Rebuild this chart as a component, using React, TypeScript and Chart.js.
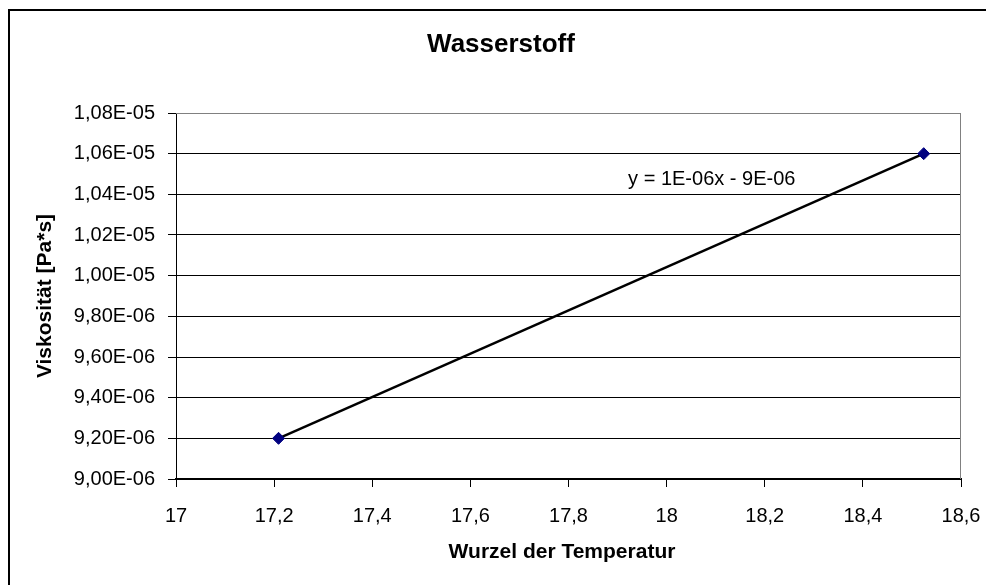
import React, { useEffect, useRef } from "react";
import { Chart, registerables } from "chart.js";

Chart.register(...registerables);

// ---- data ----
const xValues = [17.209, 18.524];
const yValues = [9.2e-6, 1.06e-5];
const xTicks = [17, 17.2, 17.4, 17.6, 17.8, 18, 18.2, 18.4, 18.6];
const yTicks = [9.0e-6, 9.2e-6, 9.4e-6, 9.6e-6, 9.8e-6, 1.0e-5, 1.02e-5, 1.04e-5, 1.06e-5, 1.08e-5];
const chartTitle = "Wasserstoff";
const xTitle = "Wurzel der Temperatur";
const yTitle = "Viskosität [Pa*s]";
const equation = "y = 1E-06x - 9E-06";
const equationPos = { x: 18.092, y: 1.0475e-5 };

const FONT = "'Liberation Sans', Arial, sans-serif";

function fmtSci(v: number): string {
  const [m, e] = v.toExponential(2).split("e");
  const en = parseInt(e, 10);
  const sign = en < 0 ? "-" : "+";
  return m.replace(".", ",") + "E" + sign + String(Math.abs(en)).padStart(2, "0");
}

const decorPlugin = {
  id: "decor",
  beforeDraw(chart: any) {
    const ctx = chart.ctx;
    ctx.save();
    ctx.fillStyle = "#ffffff";
    ctx.fillRect(0, 0, chart.width, chart.height);
    ctx.strokeStyle = "#000000";
    ctx.lineWidth = 2;
    ctx.strokeRect(9, 10, 1200, 1200);
    ctx.restore();
  },
  beforeDatasetsDraw(chart: any) {
    const ctx = chart.ctx;
    const a = chart.chartArea;
    ctx.save();
    ctx.strokeStyle = "#808080";
    ctx.lineWidth = 1;
    ctx.beginPath();
    ctx.moveTo(a.left, a.top + 0.5);
    ctx.lineTo(a.right - 0.5, a.top + 0.5);
    ctx.lineTo(a.right - 0.5, a.bottom);
    ctx.stroke();
    ctx.restore();
  },
  afterDraw(chart: any) {
    const ctx = chart.ctx;
    const a = chart.chartArea;
    const xs = chart.scales.x;
    const ys = chart.scales.y;
    ctx.save();
    ctx.fillStyle = "#000000";
    ctx.textAlign = "center";
    ctx.textBaseline = "middle";
    ctx.font = `bold 26px ${FONT}`;
    ctx.fillText(chartTitle, 501, 45);
    ctx.font = `bold 21px ${FONT}`;
    ctx.fillText(xTitle, 562, 552);
    ctx.save();
    ctx.translate(45, (a.top + a.bottom) / 2);
    ctx.rotate(-Math.PI / 2);
    ctx.fillText(yTitle, 0, 0);
    ctx.restore();
    ctx.font = `20px ${FONT}`;
    ctx.fillText(equation, xs.getPixelForValue(equationPos.x), ys.getPixelForValue(equationPos.y));
    ctx.restore();
  },
};

export default function App() {
  const ref = useRef<HTMLCanvasElement | null>(null);

  useEffect(() => {
    if (!ref.current) return;
    const points = xValues.map((x, i) => ({ x, y: yValues[i] }));
    const chart = new Chart(ref.current, {
      type: "scatter",
      data: {
        datasets: [
          {
            label: "Trend",
            data: points,
            showLine: true,
            borderColor: "#000000",
            borderWidth: 2.5,
            pointRadius: 0,
            order: 2,
          },
          {
            label: "Wasserstoff",
            data: points,
            showLine: false,
            pointStyle: "rectRot",
            pointRadius: 6,
            pointBackgroundColor: "#000080",
            pointBorderColor: "#000080",
            pointBorderWidth: 1,
            order: 1,
          },
        ],
      },
      options: {
        responsive: false,
        animation: false,
        devicePixelRatio: 1,
        layout: { padding: { left: 0, top: 113, right: 25, bottom: 0 } },
        plugins: {
          legend: { display: false },
          tooltip: { enabled: false },
          title: { display: false },
        },
        scales: {
          x: {
            type: "linear",
            min: 17,
            max: 18.6,
            afterBuildTicks: (s: any) => {
              s.ticks = xTicks.map((v) => ({ value: v }));
            },
            afterFit: (s: any) => {
              s.height = 106;
              s.paddingLeft = 0;
              s.paddingRight = 0;
            },
            ticks: {
              autoSkip: false,
              maxRotation: 0,
              padding: 17,
              color: "#000000",
              font: { family: FONT, size: 20 },
              callback: (v: any) => String(v).replace(".", ","),
            },
            grid: {
              drawOnChartArea: false,
              drawTicks: true,
              tickLength: 8,
              color: "#000000",
              tickColor: "#000000",
            },
            border: { color: "#000000", width: 2 },
          },
          y: {
            type: "linear",
            min: 9.0e-6,
            max: 1.08e-5,
            afterBuildTicks: (s: any) => {
              s.ticks = yTicks.map((v) => ({ value: v }));
            },
            afterFit: (s: any) => {
              s.width = 176;
              s.paddingTop = 0;
              s.paddingBottom = 0;
            },
            ticks: {
              autoSkip: false,
              padding: 13,
              color: "#000000",
              font: { family: FONT, size: 20 },
              callback: (v: any) => fmtSci(Number(v)),
            },
            grid: {
              drawTicks: true,
              tickLength: 8,
              color: (c: any) => (c.index === yTicks.length - 1 ? "#808080" : "#000000"),
              tickColor: "#000000",
            },
            border: { color: "#000000", width: 1 },
          },
        },
      },
      plugins: [decorPlugin],
    } as any);
    return () => chart.destroy();
  }, []);

  return (
    <div style={{ position: "absolute", left: 0, top: 0, width: 986, height: 585, overflow: "hidden" }}>
      <canvas ref={ref} width={986} height={585} style={{ display: "block", width: 986, height: 585 }} />
    </div>
  );
}
